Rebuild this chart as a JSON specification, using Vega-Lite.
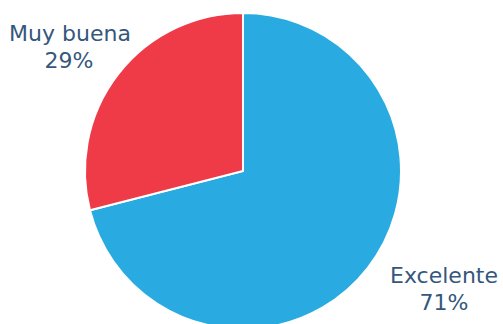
{
  "$schema": "https://vega.github.io/schema/vega-lite/v6.json",
  "width": 503,
  "height": 324,
  "autosize": {"type": "fit", "contains": "padding"},
  "padding": {"left": 0, "right": 13, "top": 18, "bottom": 0},
  "background": "white",
  "view": {"stroke": null},
  "data": {"values": [
    {"cat": "Excelente", "share": 0.71},
    {"cat": "Muy buena", "share": 0.29}
  ]},
  "encoding": {
    "theta": {"field": "share", "type": "quantitative", "stack": true},
    "order": {"field": "cat", "type": "nominal"}
  },
  "layer": [
    {
      "mark": {"type": "arc", "outerRadius": 158, "stroke": "white", "strokeWidth": 2},
      "encoding": {
        "color": {"field": "cat", "type": "nominal", "legend": null,
          "scale": {"domain": ["Excelente", "Muy buena"], "range": ["#29abe2", "#ef3a47"]}}
      }
    },
    {
      "mark": {"type": "text", "radius": 200, "dx": -15, "dy": -14, "font": "DejaVu Sans", "fontSize": 22, "color": "#35577c", "align": "center", "baseline": "middle"},
      "encoding": {"text": {"condition": {"test": "datum.cat === 'Muy buena'", "field": "cat"}, "value": ""}}
    },
    {
      "mark": {"type": "text", "radius": 200, "dx": -16, "dy": 13, "font": "DejaVu Sans", "fontSize": 22, "color": "#35577c", "align": "center", "baseline": "middle"},
      "encoding": {"text": {"condition": {"test": "datum.cat === 'Muy buena'", "field": "share", "format": ".0%"}, "value": ""}}
    },
    {
      "mark": {"type": "text", "radius": 200, "dx": 43, "dy": -18, "font": "DejaVu Sans", "fontSize": 22, "color": "#35577c", "align": "center", "baseline": "middle"},
      "encoding": {"text": {"condition": {"test": "datum.cat === 'Excelente'", "field": "cat"}, "value": ""}}
    },
    {
      "mark": {"type": "text", "radius": 200, "dx": 43, "dy": 9, "font": "DejaVu Sans", "fontSize": 22, "color": "#35577c", "align": "center", "baseline": "middle"},
      "encoding": {"text": {"condition": {"test": "datum.cat === 'Excelente'", "field": "share", "format": ".0%"}, "value": ""}}
    }
  ]
}
